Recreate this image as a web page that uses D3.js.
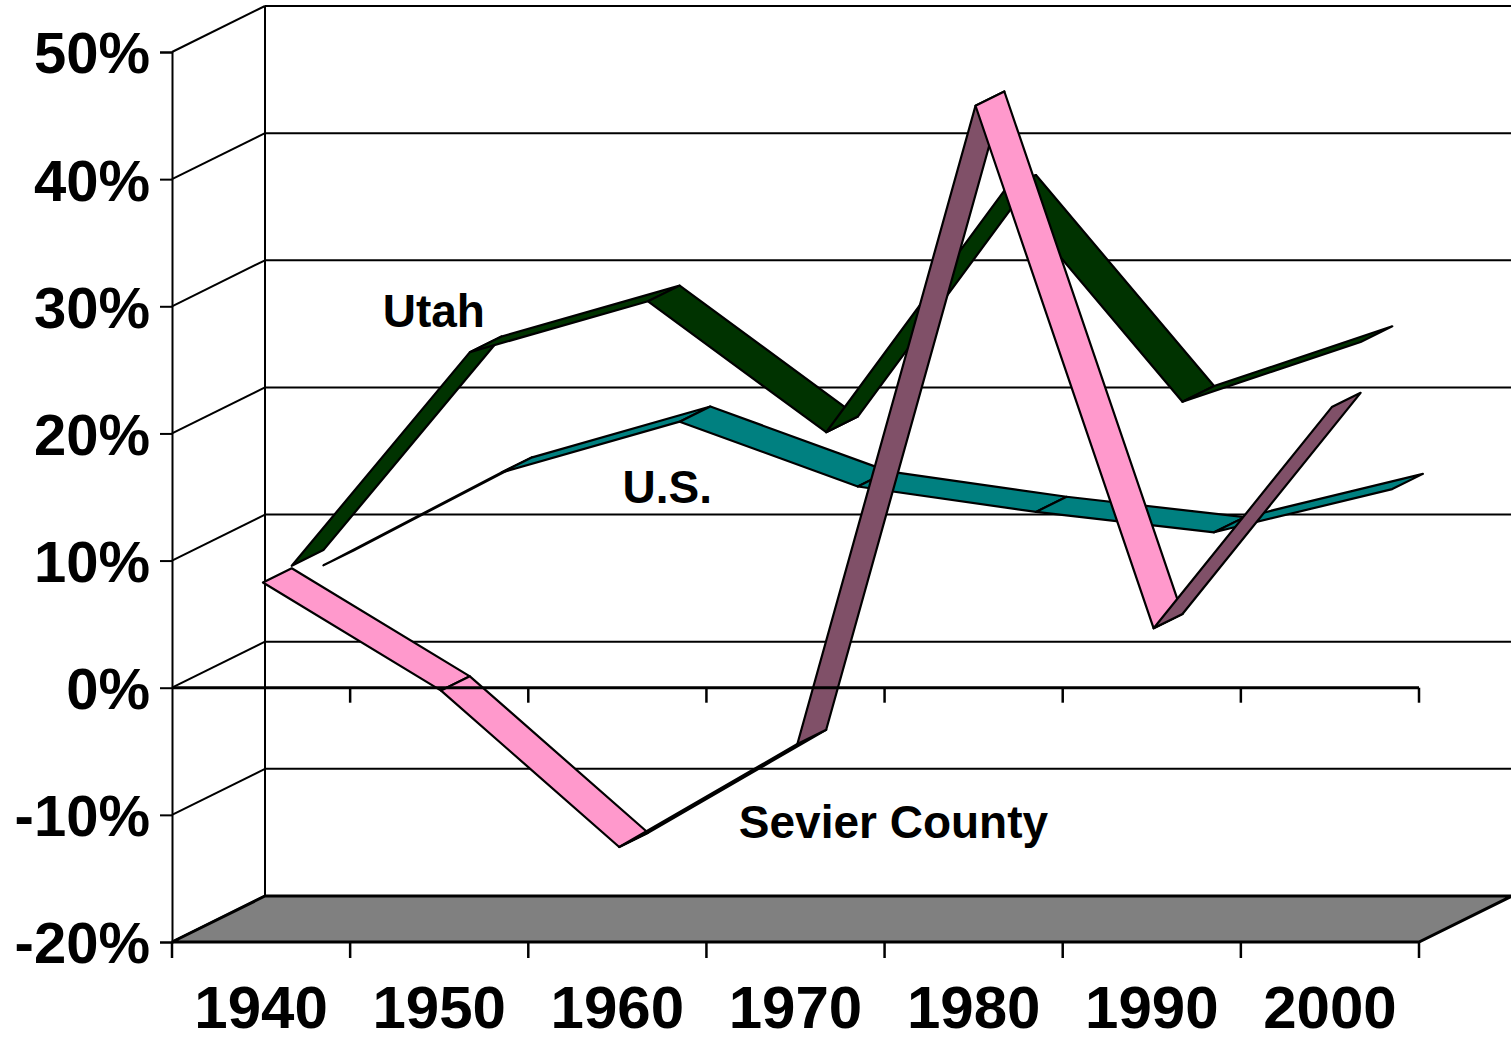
<!DOCTYPE html>
<html>
<head>
<meta charset="utf-8">
<script src="https://cdn.jsdelivr.net/npm/d3@7"></script>
<style>
  body { margin: 0; background: #fff; }
  svg text { font-family: "Liberation Sans", Arial, sans-serif; font-weight: bold; fill: #000; }
</style>
</head>
<body>
<svg id="chart" width="1511" height="1041"></svg>
<script>
// decade growth, % change
const years = [1940, 1950, 1960, 1970, 1980, 1990, 2000]
const sevier = [8.2, -0.3, -12.6, -4.5, 45.7, 4.6, 22.0]
const utah = [8.4, 25.2, 29.2, 18.9, 37.9, 21.3, 26.0]
const us = [7.2, 14.5, 18.5, 13.4, 11.4, 9.8, 13.2]
const yTicks = [-20, -10, 0, 10, 20, 30, 40, 50]

// series, back to front
const series = [
  { name: 'U.S.', values: us, depth: [0.67, 1.0], top: '#008080', under: '#008080', label: [1962.8, 14.5] },
  { name: 'Utah', values: utah, depth: [0.33, 0.67], top: '#003300', under: '#003300', label: [1949.7, 28.4] },
  { name: 'Sevier County', values: sevier, depth: [0.02, 0.33], top: '#FF99CC', under: '#805068', label: [1975.5, -11.8] }
]

const width = 1511, height = 1041
const depthX = 93, depthY = -46

const svg = d3.select('#chart')

let x = d3.scaleBand()
  .domain(years)
  .range([172, 1419])
  .paddingInner(0).paddingOuter(0)

let y = d3.scaleLinear()
  .domain([-20, 50])
  .range([942, 52])

// year -> x for annotations
let xLin = d3.scaleLinear()
  .domain([1935, 2005])
  .range([172, 1419])

const xc = yr => x(yr) + x.bandwidth() / 2
const pt = (yr, v, d) => [xc(yr) + depthX * d, y(v) + depthY * d]

let grid = svg.append('g').attr('class', 'grid')

// back wall gridlines + left wall diagonals
yTicks.forEach(v => {
  if (v > -20) {
    grid.append('line')
      .attr('x1', 172 + depthX).attr('y1', y(v) + depthY)
      .attr('x2', width + 2).attr('y2', y(v) + depthY)
      .attr('stroke', '#000').attr('stroke-width', 2)
  }
  grid.append('line')
    .attr('x1', 172).attr('y1', y(v))
    .attr('x2', 172 + depthX).attr('y2', y(v) + depthY)
    .attr('stroke', '#000').attr('stroke-width', 2)
})

// back wall vertical edge
grid.append('line')
  .attr('x1', 172 + depthX).attr('y1', y(50) + depthY)
  .attr('x2', 172 + depthX).attr('y2', y(-20) + depthY)
  .attr('stroke', '#000').attr('stroke-width', 2)

// floor
let floorPts = [[172, y(-20)], [1419, y(-20)], [1419 + depthX, y(-20) + depthY], [172 + depthX, y(-20) + depthY]]
svg.append('path')
  .attr('d', d3.line()(floorPts) + 'Z')
  .attr('fill', '#808080')
  .attr('stroke', '#000')
  .attr('stroke-width', 3)
  .attr('stroke-linejoin', 'miter')

// y axis on front plane
let yaxis = svg.append('g')
  .attr('class', 'yaxis')
  .attr('transform', 'translate(172,0)')
  .call(
    d3.axisLeft(y)
    .tickValues(yTicks)
    .tickSize(12)
    .tickPadding(10)
    .tickFormat(d => d + '%')
  )

yaxis.select('.domain').attr('stroke', '#000').attr('stroke-width', 2)
yaxis.selectAll('.tick line').attr('stroke', '#000').attr('stroke-width', 2)
yaxis.selectAll('text')
  .attr('font-size', 58)
  .attr('font-family', '"Liberation Sans", Arial, sans-serif')
  .attr('font-weight', 'bold')
  .attr('dy', '0.36em')
  .attr('fill', '#000')

// bottom ticks + category labels
const bounds = years.map(yr => x(yr)).concat([x(years[years.length - 1]) + x.bandwidth()])

bounds.forEach(b => {
  svg.append('line')
    .attr('x1', b).attr('y1', y(-20))
    .attr('x2', b).attr('y2', y(-20) + 16)
    .attr('stroke', '#000').attr('stroke-width', 2.5)
})

svg.append('g')
  .selectAll('text')
  .data(years)
  .join('text')
  .attr('x', d => xc(d))
  .attr('y', 1028)
  .attr('text-anchor', 'middle')
  .attr('font-size', 60)
  .text(d => d)

// ribbons
let ribbons = svg.append('g').attr('class', 'ribbons')

series.forEach(s => {
  let g = ribbons.append('g').attr('class', 'series')
  for (let i = 0; i < years.length - 1; i++) {
    let p1 = pt(years[i], s.values[i], s.depth[0])
    let p2 = pt(years[i + 1], s.values[i + 1], s.depth[0])
    let p3 = pt(years[i + 1], s.values[i + 1], s.depth[1])
    let p4 = pt(years[i], s.values[i], s.depth[1])
    // which side of the ribbon faces us
    let cross = (p2[0] - p1[0]) * (p4[1] - p1[1]) - (p2[1] - p1[1]) * (p4[0] - p1[0])
    g.append('path')
      .attr('d', d3.line()([p1, p2, p3, p4]) + 'Z')
      .attr('fill', cross > 0 ? s.under : s.top)
      .attr('stroke', '#000')
      .attr('stroke-width', 2.2)
      .attr('stroke-linejoin', 'round')
  }
})

// category axis at 0%
svg.append('line')
  .attr('x1', 172).attr('y1', y(0))
  .attr('x2', 1419).attr('y2', y(0))
  .attr('stroke', '#000').attr('stroke-width', 3)

bounds.slice(1).forEach(b => {
  svg.append('line')
    .attr('x1', b).attr('y1', y(0))
    .attr('x2', b).attr('y2', y(0) + 15)
    .attr('stroke', '#000').attr('stroke-width', 2.5)
})

// series labels
svg.append('g')
  .selectAll('text')
  .data(series)
  .join('text')
  .attr('x', d => xLin(d.label[0]))
  .attr('y', d => y(d.label[1]))
  .attr('text-anchor', 'middle')
  .attr('font-size', 46)
  .text(d => d.name)
</script>
</body>
</html>
